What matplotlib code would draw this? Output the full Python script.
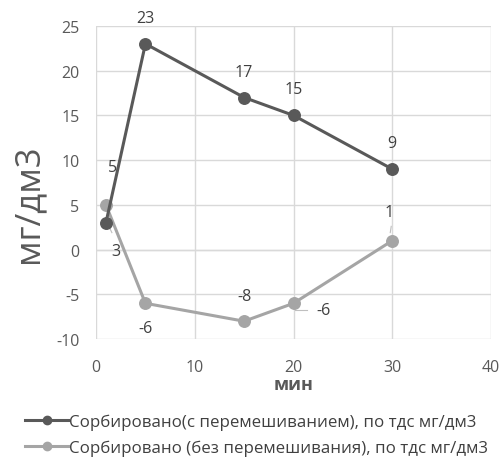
import matplotlib
matplotlib.use("Agg")
import matplotlib.pyplot as plt
from matplotlib.lines import Line2D

minutes = [1, 5, 15, 20, 30]
stirred = [3, 23, 17, 15, 9]
unstirred = [5, -6, -8, -6, 1]
stirred_name = "Сорбировано(с перемешиванием), по тдс мг/дм3"
unstirred_name = "Сорбировано (без перемешивания), по тдс мг/дм3"

dark = "#595959"
light = "#a5a5a5"
text_c = "#595959"
label_c = "#404040"

plt.rcParams['font.family'] = ['Open Sans', 'DejaVu Sans']
plt.rcParams['axes.unicode_minus'] = False

fig = plt.figure(figsize=(5.03, 4.64), dpi=100)
ax = fig.add_axes([0.191, 0.267, 0.785, 0.675])

ax.plot(minutes, stirred, color=dark, lw=2.2, marker='o', ms=8.3, zorder=3)
ax.plot(minutes, unstirred, color=light, lw=2.2, marker='o', ms=8.3, zorder=2)

ax.set_xlim(0, 40)
ax.set_ylim(-10, 25)
ax.set_xticks(range(0, 41, 10))
ax.set_yticks(range(-10, 26, 5))
ax.grid(True, color="#d9d9d9", lw=1)
ax.set_axisbelow(True)
for s in ax.spines.values():
    s.set_visible(False)
ax.axhline(0, color="#d9d9d9", lw=1, zorder=0)
ax.tick_params(axis='y', length=0, labelsize=11.5, colors=text_c, pad=12)
ax.tick_params(axis='x', length=0, labelsize=11.5, colors=text_c, pad=14)

ax.set_xlabel("мин", fontsize=13, color=text_c, fontweight='bold', labelpad=0)
ax.set_ylabel("мг/дм3", fontsize=25, color=text_c)
ax.yaxis.label.set(rotation_mode='anchor', ha='center', va='center')
ax.yaxis.set_label_coords(-0.172, 0.434)

fs = 11.5
# stirred series value labels
offs_s = [(1.0, -3.2), (0.0, 2.9), (0.0, 2.9), (0.0, 2.9), (0.0, 2.9)]
for x, y, (dx, dy) in zip(minutes, stirred, offs_s):
    ax.text(x + dx, y + dy, f"{y}", ha='center', va='center', fontsize=fs, color=label_c)
# unstirred series value labels
offs_u = [(0.7, 4.2), (0.0, -2.8), (0.0, 2.8), (3.0, -0.8), (-0.3, 3.2)]
for x, y, (dx, dy) in zip(minutes, unstirred, offs_u):
    ax.text(x + dx, y + dy, f"{y}", ha='center', va='center', fontsize=fs, color=label_c)
# leader lines
ax.plot([20.2, 21.4], [-6.8, -6.8], color="#bfbfbf", lw=0.8)
ax.plot([29.8, 29.9], [1.9, 2.6], color="#bfbfbf", lw=0.8)
ax.plot([1.6, 1.3], [1.9, 2.6], color="#bfbfbf", lw=0.8)

handles = [
    Line2D([], [], color=dark, lw=2.2, marker='o', ms=6),
    Line2D([], [], color=light, lw=2.2, marker='o', ms=6),
]
fig.legend(handles, [stirred_name, unstirred_name], loc='upper center',
           bbox_to_anchor=(0.51, 0.122), frameon=False, fontsize=12.2,
           labelcolor=label_c, handlelength=2.5, handletextpad=0.05,
           labelspacing=0.6, borderaxespad=0)

fig.savefig("out.png", dpi=100)
